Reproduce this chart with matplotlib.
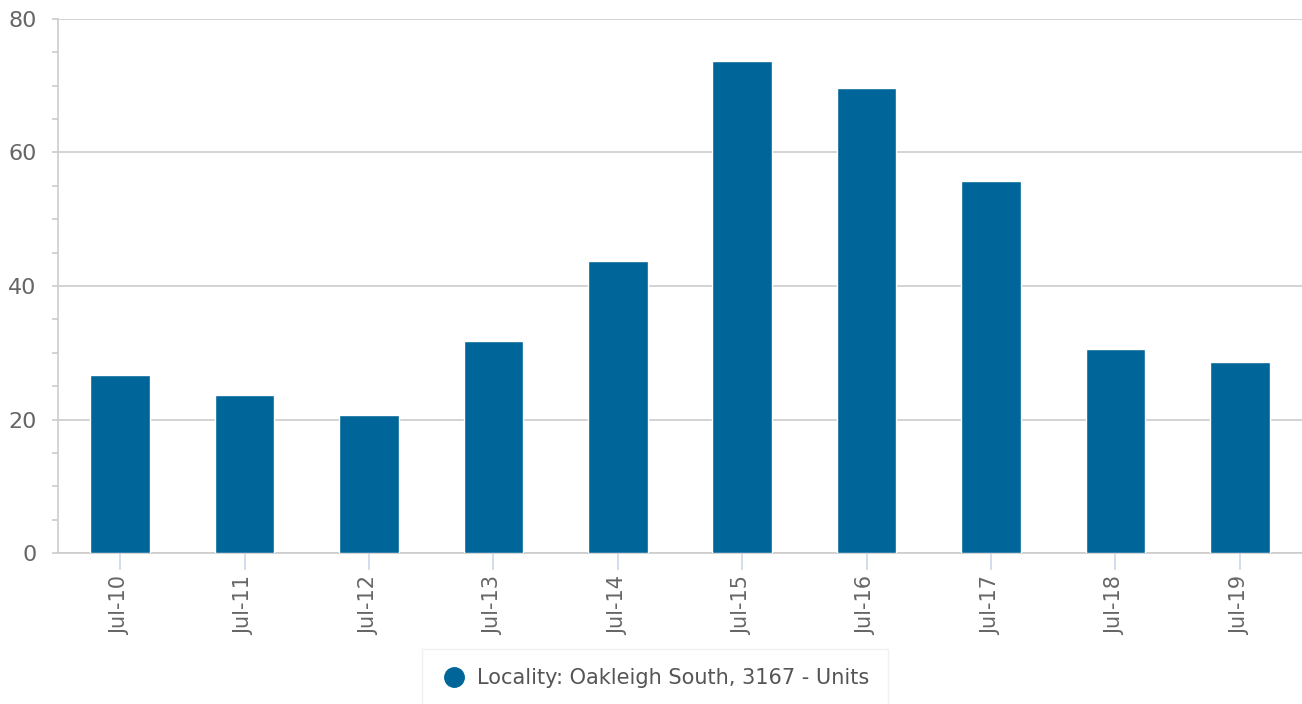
import numpy as np
import matplotlib.pyplot as plt
from matplotlib.lines import Line2D
from matplotlib.ticker import MultipleLocator

categories = ['Jul-10', 'Jul-11', 'Jul-12', 'Jul-13', 'Jul-14',
              'Jul-15', 'Jul-16', 'Jul-17', 'Jul-18', 'Jul-19']
values = [26.6, 23.7, 20.6, 31.7, 43.7, 73.7, 69.7, 55.7, 30.6, 28.6]
series_name = 'Locality: Oakleigh South, 3167 - Units'

bar_color = '#006699'
text_color = '#666666'
grid_color = '#cccccc'

plt.rcParams['font.family'] = ['DejaVu Sans']

fig = plt.figure(figsize=(13.02, 7.04), dpi=100)
ax = fig.add_axes([58 / 1302, 151 / 704, 1 - 58 / 1302, (553 - 19) / 704])

x = np.arange(len(categories))
ax.bar(x, values, width=0.48, color=bar_color, edgecolor='white', linewidth=1, zorder=3)

ax.set_xlim(-0.5, len(categories) - 0.5)
ax.set_ylim(0, 80)
ax.yaxis.set_major_locator(MultipleLocator(20))
ax.yaxis.set_minor_locator(MultipleLocator(5))
ax.grid(axis='y', which='major', color=grid_color, linewidth=1.2, zorder=0)

for side in ['top', 'right']:
    ax.spines[side].set_visible(False)
for side in ['left', 'bottom']:
    ax.spines[side].set_color(grid_color)
    ax.spines[side].set_linewidth(1.2)

ax.set_xticks(x)
ax.set_xticklabels(categories, rotation=90, fontsize=15, color=text_color)
ax.tick_params(axis='x', length=12.5, width=1.2, color='#ccd6eb', pad=4)
ax.tick_params(axis='y', which='both', length=4.5, width=1.2, color=grid_color,
               labelsize=16, labelcolor=text_color, pad=11)

handle = Line2D([], [], marker='o', linestyle='none', markersize=14,
                markerfacecolor=bar_color, markeredgecolor=bar_color)
leg = fig.legend([handle], [series_name], loc='center', bbox_to_anchor=(655 / 1302, 1 - 678 / 704),
                 frameon=True, fancybox=False, fontsize=15, handletextpad=0.5,
                 handlelength=1.2, borderpad=0.9, labelcolor='#555555')
leg.get_frame().set_edgecolor('#eeeeee')
leg.get_frame().set_linewidth(1)

fig.savefig('out.png', dpi=100)
